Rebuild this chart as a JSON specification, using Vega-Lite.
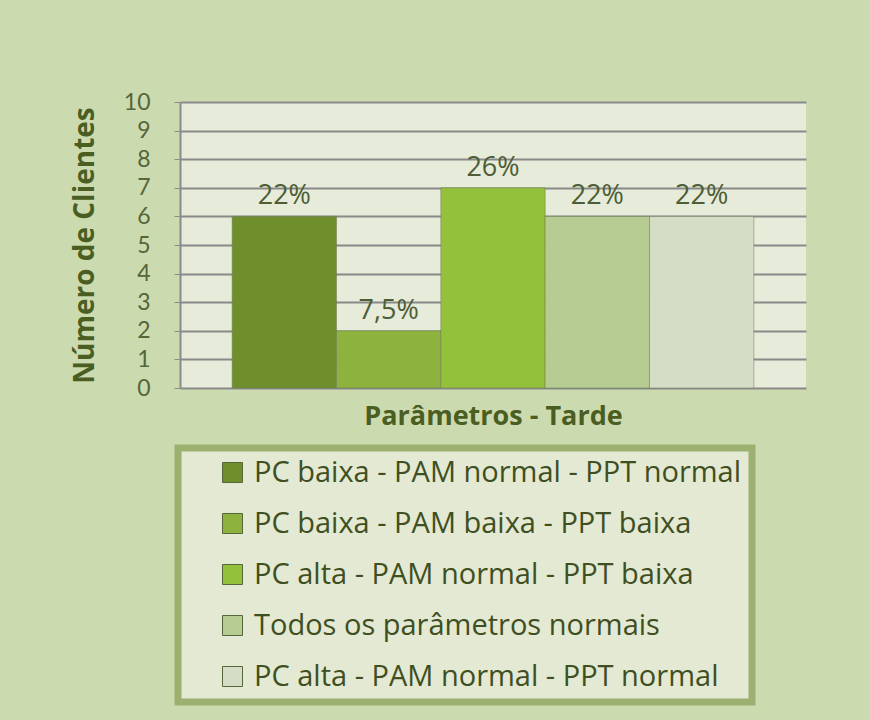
{
  "$schema": "https://vega.github.io/schema/vega-lite/v6.json",
  "width": 626,
  "height": 286,
  "autosize": "none",
  "padding": {"left": 180, "top": 102, "right": 63, "bottom": 332},
  "background": "#ccdab0",
  "config": {
    "font": "Open Sans",
    "view": {"fill": "#e7ebda", "stroke": null},
    "legend": {"strokeWidth": 7}
  },
  "data": {
    "values": [
      {"param": "PC baixa - PAM normal - PPT normal", "clientes": 6, "label": "22%"},
      {"param": "PC baixa - PAM baixa - PPT baixa", "clientes": 2, "label": "7,5%"},
      {"param": "PC alta - PAM normal - PPT baixa", "clientes": 7, "label": "26%"},
      {"param": "Todos os parâmetros normais", "clientes": 6, "label": "22%"},
      {"param": "PC alta - PAM normal - PPT normal", "clientes": 6, "label": "22%"}
    ]
  },
  "encoding": {
    "x": {
      "field": "param",
      "type": "nominal",
      "sort": null,
      "scale": {"paddingInner": 0, "paddingOuter": 0.5},
      "axis": {
        "labels": false,
        "ticks": false,
        "domain": false,
        "title": "Parâmetros - Tarde",
        "titleFont": "Open Sans",
        "titleFontSize": 27,
        "titleFontWeight": "bold",
        "titleColor": "#4b5e22",
        "titlePadding": 15
      }
    },
    "y": {
      "field": "clientes",
      "type": "quantitative",
      "scale": {"domain": [0, 10]},
      "axis": {
        "values": [0, 1, 2, 3, 4, 5, 6, 7, 8, 9, 10],
        "title": "Número de Clientes",
        "titleFont": "Open Sans",
        "titleFontSize": 28,
        "titleFontWeight": "bold",
        "titleColor": "#4b5e22",
        "titlePadding": 24,
        "labelFont": "Lato",
        "labelFontSize": 23,
        "labelColor": "#55663a",
        "labelPadding": 24,
        "tickSize": 6,
        "tickColor": "#8a8a8a",
        "domainColor": "#8a8a8a",
        "domainWidth": 2,
        "gridColor": "#8a8a8a",
        "gridWidth": 2
      }
    }
  },
  "layer": [
    {
      "mark": {"type": "bar", "stroke": "#6b7a55", "strokeWidth": 1, "strokeOpacity": 0.5},
      "encoding": {
        "color": {
          "field": "param",
          "type": "nominal",
          "sort": null,
          "scale": {
            "domain": [
              "PC baixa - PAM normal - PPT normal",
              "PC baixa - PAM baixa - PPT baixa",
              "PC alta - PAM normal - PPT baixa",
              "Todos os parâmetros normais",
              "PC alta - PAM normal - PPT normal"
            ],
            "range": ["#6e8f2b", "#8db23e", "#93c13b", "#b6cc92", "#d6ddc6"]
          },
          "legend": {
            "title": null,
            "orient": "none",
            "legendX": -2,
            "legendY": 346,
            "direction": "vertical",
            "symbolType": "square",
            "symbolSize": 400,
            "symbolStrokeColor": "#55663a",
            "symbolStrokeWidth": 1,
            "symbolOffset": 30,
            "labelOffset": 7,
            "labelFont": "Open Sans",
            "labelFontSize": 29,
            "labelColor": "#3f4f22",
            "labelLimit": 700,
            "rowPadding": 21,
            "padding": 10,
            "fillColor": "#e3e9d2",
            "strokeColor": "#9cb070"
          }
        }
      }
    },
    {
      "mark": {"type": "text", "baseline": "alphabetic", "dy": -12, "fontSize": 27, "color": "#4d5d35", "font": "Open Sans"},
      "encoding": {"text": {"field": "label"}}
    }
  ]
}
